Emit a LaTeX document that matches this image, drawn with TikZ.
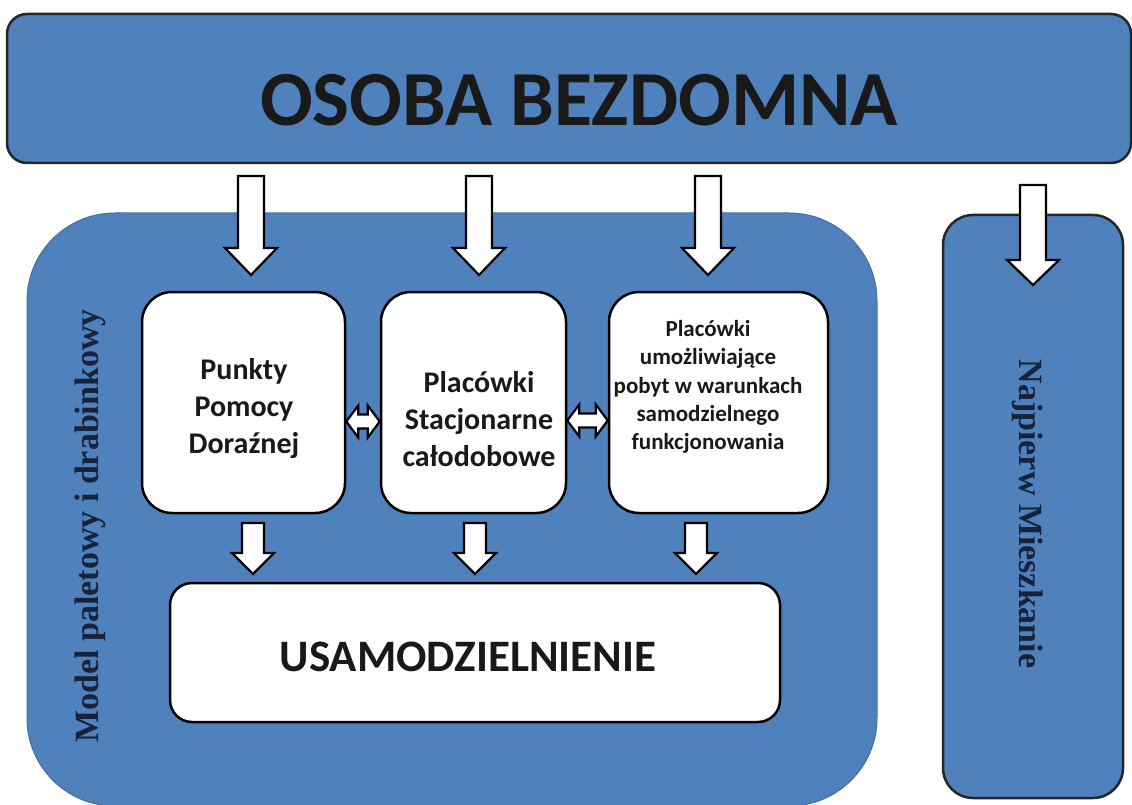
\documentclass[tikz,border=0pt]{standalone}
\usepackage{fontspec}
\setmainfont{Carlito}
\newfontfamily\timesfont{Liberation Serif}
\usepackage{tikz}
\usetikzlibrary{calc}

\definecolor{barblue}{HTML}{4F81BD}
\definecolor{textnavy}{HTML}{17233A}

\tikzset{
  bluebox/.style={draw=black!85, line width=2.5pt, fill=barblue, inner sep=0pt},
  whitebox/.style={draw=black, line width=2.5pt, fill=white, inner sep=0pt, rounded corners=30pt},
  boxtext/.style={align=center, text=black!90, inner sep=0pt},
  sidetext/.style={text=textnavy, inner sep=0pt, font=\timesfont\bfseries\fontsize{34}{40}\selectfont},
  blockarrow/.style={draw=black, line width=2.2pt, fill=white, line join=miter}
}

% block arrow pointing down: from, to, shaft half width, head half width, head length
\newcommand{\blockdown}[5]{%
  \draw[blockarrow] let \p1=(#1), \p2=(#2) in
    (\x1-#3pt,\y1) -- (\x1+#3pt,\y1) -- (\x1+#3pt,\y2+#5pt) -- (\x1+#4pt,\y2+#5pt)
    -- (\x1,\y2) -- (\x1-#4pt,\y2+#5pt) -- (\x1-#3pt,\y2+#5pt) -- cycle;}

% block arrow with two heads: from, to, shaft half height, head half height, head length
\newcommand{\blockboth}[5]{%
  \draw[blockarrow] let \p1=(#1), \p2=(#2) in
    (\x1,\y1) -- (\x1+#5pt,\y1+#4pt) -- (\x1+#5pt,\y1+#3pt) -- (\x2-#5pt,\y1+#3pt)
    -- (\x2-#5pt,\y1+#4pt) -- (\x2,\y1) -- (\x2-#5pt,\y1-#4pt) -- (\x2-#5pt,\y1-#3pt)
    -- (\x1+#5pt,\y1-#3pt) -- (\x1+#5pt,\y1-#4pt) -- cycle;}

\begin{document}
\begin{tikzpicture}[x=1pt, y=-1pt]
\useasboundingbox (0,0) rectangle (1132,805);

% top bar
\node[bluebox, rounded corners=20pt, minimum width=1124pt, minimum height=149pt] (osoba) at (569,88.5) {};
\node[boxtext, font=\bfseries\fontsize{78}{90}\selectfont] (osobatext) at (579,100) {OSOBA BEZDOMNA};

% the two models
\node[bluebox, draw=barblue!85!black, line width=1pt, rounded corners=88pt,
      minimum width=850pt, minimum height=593pt] (model) at (452,509.5) {};
\node[bluebox, rounded corners=30pt, minimum width=180pt, minimum height=583pt] (najpierw) at (1033,506.5) {};
\node[sidetext, rotate=90] (modeltext) at (90,526) {Model paletowy i drabinkowy};
\node[sidetext, rotate=-90] (najpierwtext) at (1028,514) {Najpierw Mieszkanie};

% steps
\node[whitebox, minimum width=203pt, minimum height=221pt] (pp) at (243.5,402.5) {};
\node[whitebox, minimum width=185pt, minimum height=221pt] (ps) at (473.5,402.5) {};
\node[whitebox, minimum width=219pt, minimum height=221pt] (pu) at (718.5,402.5) {};
\node[whitebox, rounded corners=22pt, minimum width=610pt, minimum height=139pt] (usam) at (475,652.5) {};

\node[boxtext, font=\bfseries\fontsize{30}{37}\selectfont] (pptext) at (244,409) {Punkty\\Pomocy\\Doraźnej};
\node[boxtext, font=\bfseries\fontsize{30}{37}\selectfont] (pstext) at (479,419) {Placówki\\Stacjonarne\\całodobowe};
\node[boxtext, font=\bfseries\fontsize{23}{28.3}\selectfont] (putext) at (708,387) {Placówki\\umożliwiające\\pobyt w warunkach\\samodzielnego\\funkcjonowania};
\node[boxtext, font=\bfseries\fontsize{45}{54}\selectfont] (usamtext) at (468,657) {USAMODZIELNIENIE};

% arrows
\foreach \ax in {251,479,708}
  \blockdown{\ax,176}{\ax,275}{13}{26}{27};
\blockdown{1033,185}{1033,285}{13}{26}{25};

\foreach \ax in {253,475,696}
  \blockdown{\ax,523}{\ax,574}{11}{21}{21};

\blockboth{[yshift=-19pt]pp.east}{[yshift=-19pt]ps.west}{7}{16}{12};
\blockboth{[yshift=-18pt]ps.east}{[yshift=-18pt]pu.west}{7}{16}{12};

\end{tikzpicture}
\end{document}
